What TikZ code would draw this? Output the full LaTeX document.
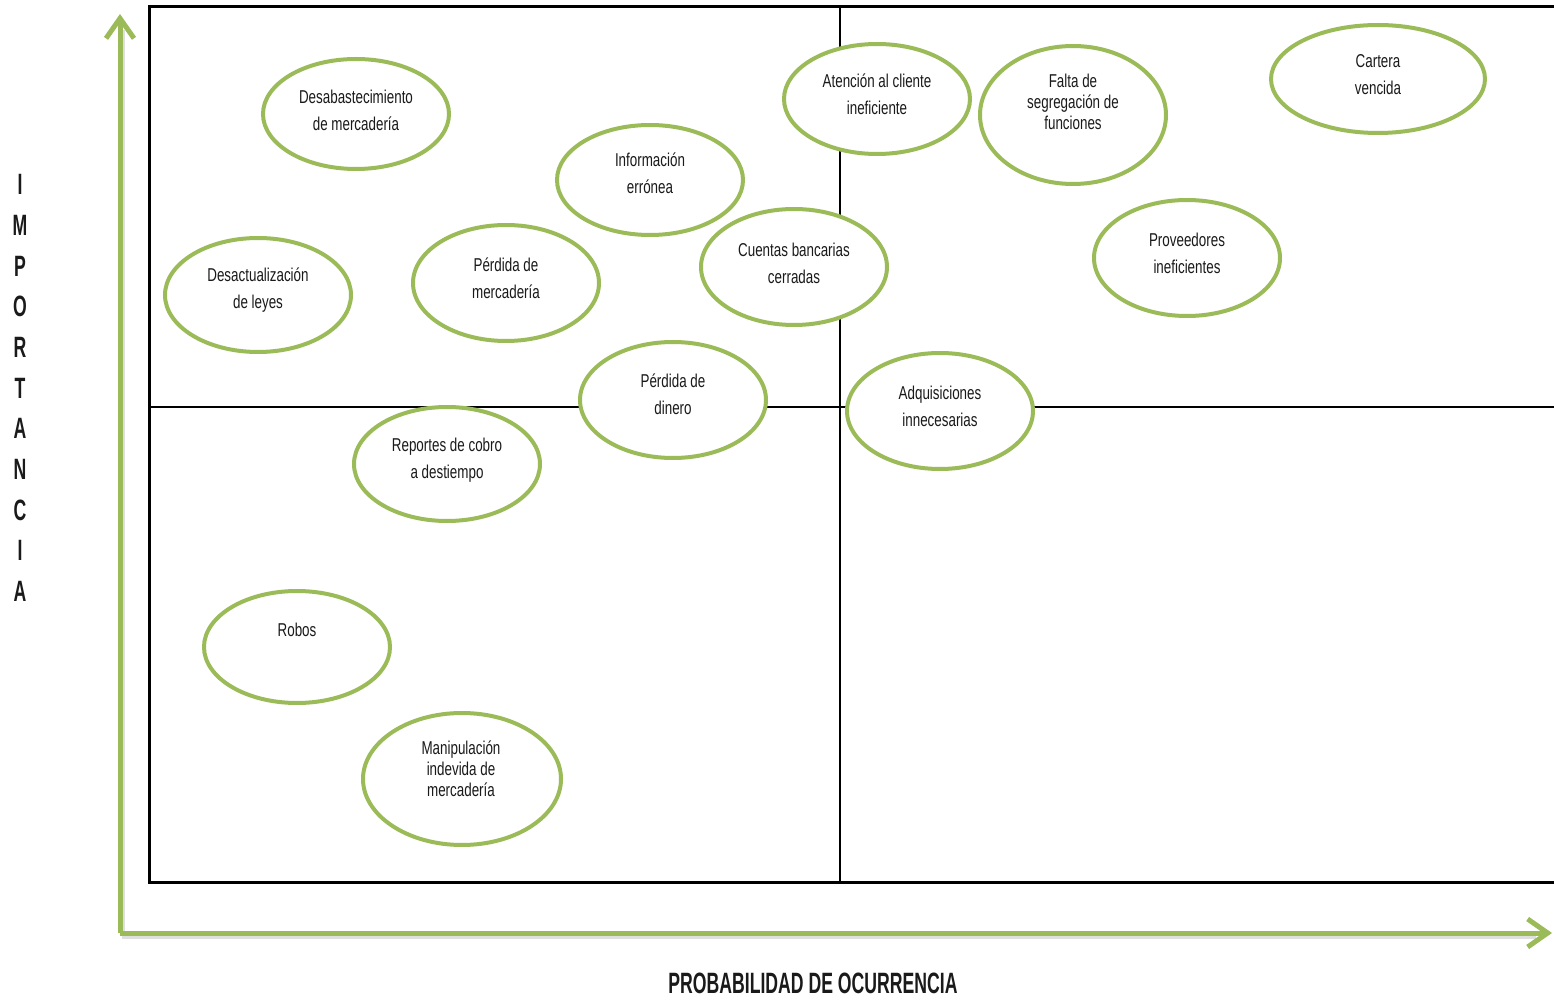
\documentclass[tikz,border=0pt]{standalone}
\usepackage{fontspec}
\setmainfont{Liberation Sans}[FakeStretch=0.72]
\newfontfamily\axisfont{Liberation Sans}[FakeStretch=0.6]
\usetikzlibrary{shapes.geometric,arrows.meta}
\definecolor{riskgreen}{HTML}{9BBB59}
\definecolor{inkgray}{HTML}{1A1A1A}
\begin{document}
\begin{tikzpicture}[x=0.5pt,y=-0.5pt,
  risk/.style={ellipse,draw=riskgreen,line width=2pt,fill=white,inner sep=0pt},
  lbl/.style={align=center,font=\fontsize{9.3}{13.5}\selectfont,text=inkgray,inner sep=0pt},
  lbltight/.style={align=center,font=\fontsize{9.3}{10.5}\selectfont,text=inkgray,inner sep=0pt},
  axis/.style={draw=riskgreen,line width=2.5pt,-{Straight Barb[length=10pt,width=14pt,line width=2.5pt]}},
  axisshadow/.style={draw=black!25,line width=2.5pt,opacity=0.5},
  axislabel/.style={font=\axisfont\fontsize{14.7}{14.7}\selectfont\bfseries,text=inkgray,inner sep=0pt}]
\useasboundingbox (0,0) rectangle (1554,1000);

% quadrant frame
\draw[line width=1.5pt] (1554,7) -- (149,7) -- (149,882) -- (1554,882);
\draw[line width=1pt] (840,7) -- (840,882);
\draw[line width=1pt] (149,407) -- (1554,407);

% axes
\coordinate (origin) at (120,933);
\coordinate (ytop) at (120,14);
\coordinate (xend) at (1552,933);
\draw[axisshadow] (122,936) -- (122,30);
\draw[axisshadow] (122,936) -- (1536,936);
\draw[axis] (origin) -- (ytop);
\draw[axis] (origin) -- (xend);

\node[axislabel] (xlabel) at (813,983) {PROBABILIDAD DE OCURRENCIA};
\node[axislabel,align=center,font=\axisfont\fontsize{14.7}{20.35}\selectfont\bfseries] (ylabel) at (20,388)
  {I\\M\\P\\O\\R\\T\\A\\N\\C\\I\\A};

% risks
\node[risk,minimum width=93pt,minimum height=55pt] (e1) at (356,114) {};
\node[lbl] (t1) at (356,110) {Desabastecimiento\\de mercadería};

\node[risk,minimum width=93pt,minimum height=55pt] (e2) at (650,180) {};
\node[lbl] (t2) at (650,173) {Información\\errónea};

\node[risk,minimum width=93pt,minimum height=55pt] (e3) at (877,99) {};
\node[lbl] (t3) at (877,94) {Atención al cliente\\ineficiente};

\node[risk,minimum width=93pt,minimum height=69pt] (e4) at (1073,115) {};
\node[lbltight] (t4) at (1073,102) {Falta de\\segregación de\\funciones};

\node[risk,minimum width=107pt,minimum height=54pt] (e5) at (1378,79) {};
\node[lbl] (t5) at (1378,75) {Cartera\\vencida};

\node[risk,minimum width=93pt,minimum height=57pt] (e6) at (258,295) {};
\node[lbl] (t6) at (258,290) {Desactualización\\de leyes};

\node[risk,minimum width=93pt,minimum height=58pt] (e7) at (506,283) {};
\node[lbl] (t7) at (506,278) {Pérdida de\\mercadería};

\node[risk,minimum width=93pt,minimum height=58pt] (e8) at (794,267) {};
\node[lbl] (t8) at (794,263) {Cuentas bancarias\\cerradas};

\node[risk,minimum width=93pt,minimum height=58pt] (e9) at (1187,258) {};
\node[lbl] (t9) at (1187,253) {Proveedores\\ineficientes};

\node[risk,minimum width=93pt,minimum height=58pt] (e10) at (673,400) {};
\node[lbl] (t10) at (673,394) {Pérdida de\\dinero};

\node[risk,minimum width=93pt,minimum height=58pt] (e11) at (940,411) {};
\node[lbl] (t11) at (940,406) {Adquisiciones\\innecesarias};

\node[risk,minimum width=93pt,minimum height=57pt] (e12) at (447,464) {};
\node[lbl] (t12) at (447,460) {Reportes de cobro\\a destiempo};

\node[risk,minimum width=93pt,minimum height=56pt] (e13) at (297,647) {};
\node[lbl] (t13) at (297,630) {Robos};

\node[risk,minimum width=99pt,minimum height=66pt] (e14) at (462,779) {};
\node[lbltight] (t14) at (461,769) {Manipulación\\indevida de\\mercadería};
\end{tikzpicture}
\end{document}
